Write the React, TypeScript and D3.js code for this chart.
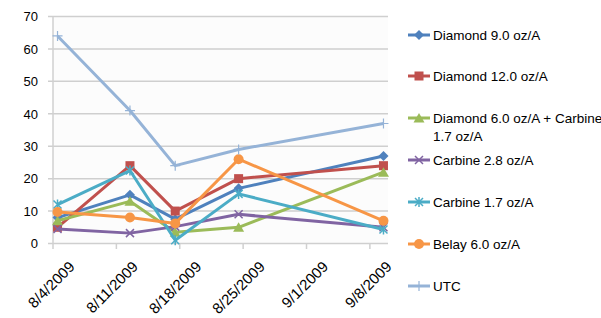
import React, { useEffect, useRef } from 'react';
import * as d3 from 'd3';

const dates = ['2009-08-04', '2009-08-12', '2009-08-17', '2009-08-24', '2009-09-09'];
const tickDates = ['2009-08-04', '2009-08-11', '2009-08-18', '2009-08-25', '2009-09-01', '2009-09-08'];
const yTicks = [0, 10, 20, 30, 40, 50, 60, 70];

const diamond9 = [8, 15, 7.5, 17, 27];
const diamond12 = [5, 24, 10, 20, 24];
const diamondCarbine = [7, 13, 3.5, 5, 22];
const carbine28 = [4.5, 3.2, 5.2, 9, 5];
const carbine17 = [12, 22.5, 1, 15.3, 4.3];
const belay = [9.7, 8, 6.2, 26, 7];
const utc = [64, 41, 24, 29, 37];

interface Series {
  name: string[];
  values: number[];
  color: string;
  marker: string;
}

const series: Series[] = [
  { name: ['Diamond 9.0 oz/A'], values: diamond9, color: '#4F81BD', marker: 'diamond' },
  { name: ['Diamond 12.0 oz/A'], values: diamond12, color: '#C0504D', marker: 'square' },
  { name: ['Diamond 6.0 oz/A + Carbine', '1.7 oz/A'], values: diamondCarbine, color: '#9BBB59', marker: 'triangle' },
  { name: ['Carbine 2.8 oz/A'], values: carbine28, color: '#8064A2', marker: 'x' },
  { name: ['Carbine 1.7 oz/A'], values: carbine17, color: '#4BACC6', marker: 'star' },
  { name: ['Belay 6.0 oz/A'], values: belay, color: '#F79646', marker: 'circle' },
  { name: ['UTC'], values: utc, color: '#95B3D7', marker: 'plus' },
];

const parse = d3.utcParse('%Y-%m-%d');
const fmt = d3.utcFormat('%-m/%-d/%Y');

// draws one marker centred on 0,0
function drawMarker(g: d3.Selection<SVGGElement, unknown, null, undefined>, kind: string, color: string) {
  if (kind === 'diamond') {
    g.append('path').attr('d', 'M0,-5L5,0L0,5L-5,0Z').attr('fill', color);
  } else if (kind === 'square') {
    g.append('rect').attr('x', -4.5).attr('y', -4.5).attr('width', 9).attr('height', 9).attr('fill', color);
  } else if (kind === 'triangle') {
    g.append('path').attr('d', 'M0,-5L5.5,4.5L-5.5,4.5Z').attr('fill', color);
  } else if (kind === 'circle') {
    g.append('circle').attr('r', 5).attr('fill', color);
  } else if (kind === 'x') {
    g.append('path').attr('d', 'M-4,-4L4,4M-4,4L4,-4').attr('stroke', color).attr('stroke-width', 1.5);
  } else if (kind === 'star') {
    g.append('path').attr('d', 'M-4,-4L4,4M-4,4L4,-4M0,-5L0,5').attr('stroke', color).attr('stroke-width', 1.5);
  } else if (kind === 'plus') {
    g.append('path').attr('d', 'M-5,0L5,0M0,-5L0,5').attr('stroke', color).attr('stroke-width', 1.2);
  }
}

const App: React.FC = () => {
  const svgRef = useRef<SVGSVGElement>(null);

  useEffect(() => {
    if (!svgRef.current) return;
    const svg = d3.select(svgRef.current);
    svg.selectAll('*').remove();

    const x = d3.scaleUtc()
      .domain([parse('2009-08-04')!, parse('2009-09-10')!])
      .range([53, 388]);
    const y = d3.scaleLinear().domain([0, 70]).range([243.5, 16.5]);
    const font = '"Liberation Sans", Arial, sans-serif';

    // plot background
    svg.append('rect')
      .attr('x', 53).attr('y', 16.5).attr('width', 335).attr('height', 227)
      .attr('fill', '#fcfcfc');

    // gridlines
    svg.append('g')
      .selectAll('line')
      .data(yTicks)
      .enter()
      .append('line')
      .attr('x1', 48).attr('x2', 388)
      .attr('y1', d => y(d)).attr('y2', d => y(d))
      .attr('stroke', '#cfcfcf')
      .attr('stroke-width', 1.5);

    // y axis line
    svg.append('line')
      .attr('x1', 53).attr('x2', 53).attr('y1', 16.5).attr('y2', 244)
      .attr('stroke', '#d0d0d0').attr('stroke-width', 1.5);

    svg.append('g')
      .selectAll('text')
      .data(yTicks)
      .enter()
      .append('text')
      .attr('x', 38)
      .attr('y', d => y(d) + 4.8)
      .attr('text-anchor', 'end')
      .attr('font-family', font)
      .attr('font-size', 13)
      .attr('fill', '#000')
      .text(d => d);

    // x ticks and labels
    const ticks = tickDates.map(d => parse(d)!);
    svg.append('g')
      .selectAll('line')
      .data(ticks)
      .enter()
      .append('line')
      .attr('x1', d => x(d)).attr('x2', d => x(d))
      .attr('y1', 243.5).attr('y2', 249)
      .attr('stroke', '#d0d0d0').attr('stroke-width', 1.5);

    svg.append('g')
      .selectAll('text')
      .data(ticks)
      .enter()
      .append('text')
      .attr('transform', d => `translate(${x(d) + 15},${260}) rotate(-45)`)
      .attr('text-anchor', 'end')
      .attr('dy', '0.72em')
      .attr('font-family', font)
      .attr('font-size', 15)
      .attr('fill', '#000')
      .text(d => fmt(d));

    // series
    const pts = dates.map(d => d3.utcHour.offset(parse(d)!, 12));
    const line = d3.line<number>()
      .x((_, i) => x(pts[i]))
      .y(d => y(d));

    series.forEach(s => {
      svg.append('path')
        .datum(s.values)
        .attr('d', line)
        .attr('fill', 'none')
        .attr('stroke', s.color)
        .attr('stroke-width', 3)
        .attr('stroke-linejoin', 'round');
      s.values.forEach((v, i) => {
        const g = svg.append('g').attr('transform', `translate(${x(pts[i])},${y(v)})`);
        drawMarker(g, s.marker, s.color);
      });
    });

    // legend
    const legendY = [35, 76, 118, 160, 202, 244, 286];
    series.forEach((s, i) => {
      const ly = legendY[i];
      svg.append('line')
        .attr('x1', 408).attr('x2', 430).attr('y1', ly).attr('y2', ly)
        .attr('stroke', s.color).attr('stroke-width', 3);
      const g = svg.append('g').attr('transform', `translate(419,${ly})`);
      drawMarker(g, s.marker, s.color);
      s.name.forEach((t, j) => {
        svg.append('text')
          .attr('x', 433)
          .attr('y', ly + 4.8 + j * 18)
          .attr('font-family', font)
          .attr('font-size', 13.5)
          .attr('fill', '#000')
          .text(t);
      });
    });
  }, []);

  return (
    <div style={{ position: 'absolute', left: 0, top: 0 }}>
      <svg ref={svgRef} width={601} height={318} style={{ display: 'block', background: '#fff' }} />
    </div>
  );
};

export default App;
